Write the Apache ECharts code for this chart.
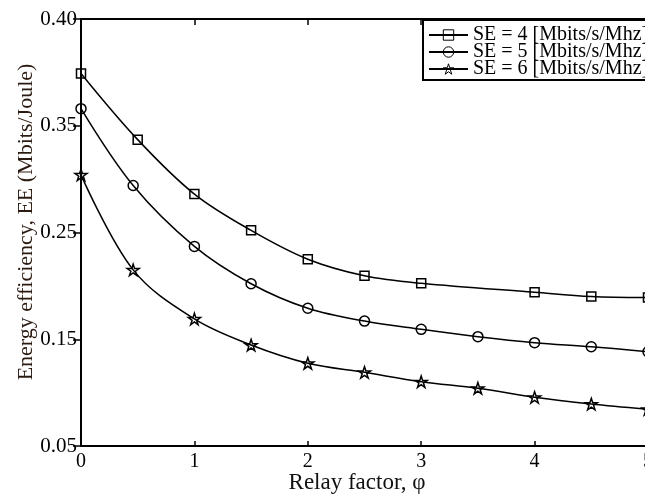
<!DOCTYPE html>
<html>
<head>
<meta charset="utf-8">
<script src="https://cdn.jsdelivr.net/npm/echarts@6/dist/echarts.min.js"></script>
<style>html,body{margin:0;padding:0;background:#fff}#c{width:645px;height:498px}</style>
</head>
<body>
<div id="c"></div>
<script>
// ---- data ----
const seriesNames = ['SE = 4 [Mbits/s/Mhz]', 'SE = 5 [Mbits/s/Mhz]', 'SE = 6 [Mbits/s/Mhz]'];
const xSE4 = [0, 0.5, 1, 1.5, 2, 2.5, 3, 4, 4.5, 5];
const ySE4 = [0.399, 0.337, 0.286, 0.252, 0.225, 0.2095, 0.2024, 0.194, 0.190, 0.189];
const xSE5 = [0, 0.46, 1, 1.5, 2, 2.5, 3, 3.5, 4, 4.5, 5];
const ySE5 = [0.366, 0.294, 0.237, 0.202, 0.179, 0.167, 0.1593, 0.1524, 0.1468, 0.143, 0.1383];
const xSE6 = [0, 0.46, 1, 1.5, 2, 2.5, 3, 3.5, 4, 4.5, 5];
const ySE6 = [0.304, 0.215, 0.169, 0.1446, 0.1275, 0.119, 0.1102, 0.1041, 0.0956, 0.0893, 0.0844];
const xTicks = [0, 1, 2, 3, 4, 5];
const yTickLabels = ['0.05', '0.15', '0.25', '0.35', '0.40'];
const xTitle = 'Relay factor, \u03c6';
const yTitle = 'Energy efficiency, EE (Mbits/Joule)';

const FONT = 'Liberation Serif';
const star = 'path://M50 0 L61.23 34.55 L97.55 34.55 L68.17 55.9 L79.39 90.45 L50 69.1 L20.61 90.45 L31.83 55.9 L2.45 34.55 L38.77 34.55 Z';
const zip = (xs, ys) => xs.map((x, i) => [x, ys[i]]);

function mkSeries(name, data, symbol, size) {
  return {
    name, type: 'line', data, smooth: 0.35, symbol, symbolSize: size, showSymbol: true,
    symbolKeepAspect: true,
    lineStyle: { color: '#000', width: 1.5 },
    itemStyle: { color: 'rgba(255,255,255,0)', borderColor: '#000', borderWidth: 1.5 },
    emphasis: { disabled: true },
    animation: false, z: 3
  };
}

const axisLineStyle = { lineStyle: { color: '#000', width: 2 } };
const chart = echarts.init(document.getElementById('c'), null, { renderer: 'canvas' });
chart.setOption({
  backgroundColor: '#fff',
  animation: false,
  grid: { left: 81, top: 19, width: 567, height: 427, containLabel: false, outerBoundsMode: 'none' },
  xAxis: [
    { type: 'value', position: 'bottom', min: xTicks[0], max: xTicks[xTicks.length - 1], interval: 1,
      axisLine: axisLineStyle, axisTick: { inside: true, length: 5, lineStyle: { color: '#000', width: 1.5 } },
      axisLabel: { color: '#000', fontFamily: FONT, fontSize: 20, margin: 6, showMaxLabel: true },
      splitLine: { show: false } },
    { type: 'value', position: 'top', min: xTicks[0], max: xTicks[xTicks.length - 1], interval: 1,
      axisLine: axisLineStyle, axisTick: { inside: true, length: 6, lineStyle: { color: '#000', width: 1.5 } },
      axisLabel: { show: false }, splitLine: { show: false } }
  ],
  yAxis: [
    { type: 'value', position: 'left', min: 0.05, max: 0.45, interval: 0.1,
      axisLine: axisLineStyle, axisTick: { inside: false, length: 5, lineStyle: { color: '#000', width: 1.5 } },
      axisLabel: { color: '#000', fontFamily: FONT, fontSize: 21, margin: 4,
        formatter: (v, i) => yTickLabels[i] },
      splitLine: { show: false } },
    { type: 'value', position: 'right', min: 0.05, max: 0.45, interval: 0.1,
      axisLine: axisLineStyle, axisTick: { inside: true, length: 8, lineStyle: { color: '#000', width: 1.5 } },
      axisLabel: { show: false }, splitLine: { show: false } }
  ],
  legend: {
    orient: 'vertical', left: 423, top: 20, padding: [5, 4, 1, 5], itemGap: -3,
    itemWidth: 39, itemHeight: 13,
    backgroundColor: '#fff', borderColor: '#000', borderWidth: 2,
    itemStyle: { borderWidth: 1 },
    textStyle: { fontFamily: FONT, fontSize: 20, color: '#000' },
    data: seriesNames, selectedMode: false
  },
  graphic: [
    { type: 'text', x: 357, y: 483, style: { text: xTitle, font: '23px "Liberation Serif"', fill: '#111', align: 'center', verticalAlign: 'middle' } },
    { type: 'text', x: 26, y: 222, rotation: Math.PI / 2, style: { text: yTitle, font: '22px "Liberation Serif"', fill: '#2a1a10', align: 'center', verticalAlign: 'middle' } }
  ],
  series: [
    mkSeries(seriesNames[0], zip(xSE4, ySE4), 'rect', 9),
    mkSeries(seriesNames[1], zip(xSE5, ySE5), 'circle', 10),
    mkSeries(seriesNames[2], zip(xSE6, ySE6), star, 12)
  ]
});
</script>
</body>
</html>
